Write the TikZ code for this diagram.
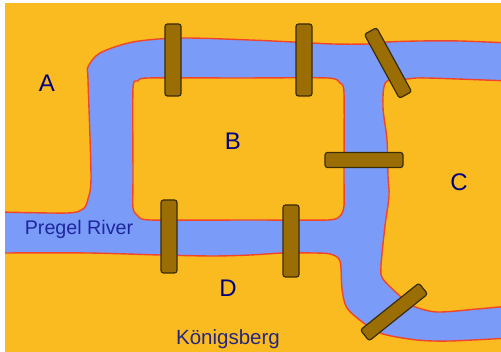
\documentclass[tikz,border=0pt]{standalone}
\usepackage{fontspec}
\setmainfont{Liberation Sans}
\definecolor{land}{HTML}{F9BB20}
\definecolor{water}{HTML}{7B9BF8}
\definecolor{bank}{HTML}{F0452A}
\definecolor{wood}{HTML}{9A6E05}
\definecolor{woodline}{HTML}{3A2C05}
\definecolor{navy}{HTML}{000080}
\tikzset{
shore/.style={fill=land, draw=bank, line width=1.4pt, line join=round},
bridge/.style={rectangle, rounded corners=2.5pt, fill=wood, draw=woodline, line width=1.2pt, inner sep=0pt},
region/.style={text=navy, font=\fontsize{24}{26}\selectfont},
caption/.style={font=\fontsize{19.7}{22}\selectfont},
}

\begin{document}
\begin{tikzpicture}[x=1pt,y=-1pt]
    \useasboundingbox (0,0) rectangle (501,352);
    \begin{scope}
    \clip (5,4) rectangle (501,352);
    \fill[water] (5,4) rectangle (501,352);
    % banks of the river
    \path[shore] plot[smooth,tension=.5] coordinates {(510,43) (460,41) (420,41) (387,42) (367,44) (333,44) (293,42) (250,40) (180,38) (133,42) (100,53) (88,67) (88,80) (91,176) (88,199) (83,209) (67,213) (0,212)} -- (0,0) -- (510,0) -- cycle;
    \path[shore] plot[smooth,tension=.5] coordinates {(0,253) (88,253) (160,255) (213,256) (250,255) (283,253) (313,253) (330,254) (340,261) (342,289) (347,308) (365,324) (383,334) (417,340) (450,341) (510,338)} -- (510,360) -- (0,360) -- cycle;
    \path[shore] plot[smooth,tension=.5] coordinates {(510,306) (477,309) (437,312) (413,306) (400,296) (383,279) (381,266) (385,226) (389,196) (388,176) (387,140) (383,107) (386,82) (407,79) (427,78) (510,81)} -- cycle;
    \path[shore] plot[smooth cycle,tension=.4] coordinates {(133,176) (133,88) (138,81) (148,78) (240,78) (328,78) (340,83) (344,93) (344,176) (344,206) (340,216) (328,220) (250,220) (150,220) (138,216) (133,208)};
    \end{scope}

    \node[bridge,minimum width=16pt,minimum height=72pt] (b1) at (173,60) {};
    \node[bridge,minimum width=16pt,minimum height=72pt] (b2) at (304,60) {};
    \node[bridge,minimum width=14pt,minimum height=73pt,rotate=28.7] (b3) at (388,63) {};
    \node[bridge,minimum width=78pt,minimum height=15pt] (b4) at (364,160) {};
    \node[bridge,minimum width=16pt,minimum height=73pt] (b5) at (169,236.5) {};
    \node[bridge,minimum width=16pt,minimum height=72pt] (b6) at (291,241) {};
    \node[bridge,minimum width=75pt,minimum height=14pt,rotate=38.7] (b7) at (394,312) {};

    \node[region] (a) at (47,83) {A};
    \node[region] (b) at (233,141) {B};
    \node[region] (c) at (459,182) {C};
    \node[region] (d) at (228,288) {D};
    \node[caption,text=navy!75!water] (river) at (79,229) {Pregel River};
    \node[caption,text=navy!70!gray,font=\fontsize{20.5}{22}\selectfont] (town) at (228,339) {Königsberg};
\end{tikzpicture}
\end{document}
